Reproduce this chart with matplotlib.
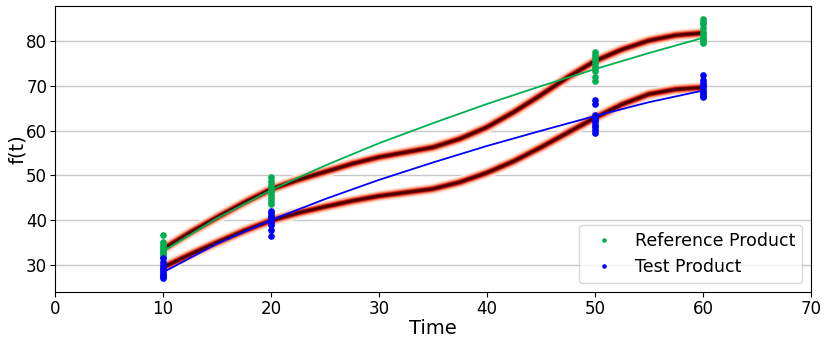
import numpy as np
import matplotlib
matplotlib.use("Agg")
import matplotlib.pyplot as plt

# measured points
times = [10, 20, 50, 60]
ref_pts = [
    [36.7, 35.0, 34.5, 34.0, 33.5, 33.2, 32.8, 32.4, 32.0, 31.7],
    [49.6, 48.8, 48.0, 47.4, 46.8, 46.2, 45.6, 45.0, 44.3, 43.6],
    [77.6, 77.0, 76.4, 75.8, 75.2, 74.6, 74.0, 73.4, 72.0, 71.2],
    [85.0, 84.4, 83.8, 82.9, 82.1, 81.6, 81.1, 80.6, 80.1, 79.7],
]
test_pts = [
    [31.5, 30.6, 30.0, 29.5, 29.0, 28.6, 28.2, 27.8, 27.4, 27.0],
    [42.0, 41.5, 41.0, 40.6, 40.2, 39.8, 39.4, 38.9, 37.8, 36.5],
    [66.8, 65.9, 63.5, 62.9, 62.4, 61.9, 61.4, 60.8, 60.2, 59.6],
    [72.4, 71.3, 70.7, 70.2, 69.7, 69.2, 68.7, 68.2, 67.8, 67.5],
]

# fitted curves
fit_t = [10, 15, 20, 25, 30, 35, 40, 45, 50, 55, 60]
ref_fit = [33.0, 40.4, 46.7, 52.2, 57.2, 61.7, 66.0, 70.0, 73.8, 77.4, 80.8]
test_fit = [28.3, 34.7, 40.0, 44.7, 49.0, 52.9, 56.6, 60.0, 63.3, 66.4, 69.0]

# smooth profile curves (red bands)
band_t = [10, 12.5, 15, 17.5, 20, 22.5, 25, 27.5, 30, 32.5, 35, 37.5, 40,
          42.5, 45, 47.5, 50, 52.5, 55, 57.5, 60]
ref_band = [33.5, 37.2, 40.6, 43.9, 46.9, 49.0, 50.8, 52.6, 54.1, 55.2, 56.3,
            58.2, 60.8, 64.2, 68.0, 72.0, 75.6, 78.2, 80.2, 81.4, 81.9]
test_band = [29.4, 32.3, 35.0, 37.6, 39.9, 41.6, 43.0, 44.3, 45.4, 46.2, 47.0,
             48.5, 50.6, 53.2, 56.3, 59.6, 62.9, 65.9, 68.2, 69.3, 69.7]

# band layers: wide & light outside, thin & dark core
band_widths = [8.6, 7.5, 6.5, 5.5, 4.6, 3.8, 3.0, 2.4, 1.9, 1.3]
band_colors = ["#fff4f0", "#fee3d6", "#fdc9b3", "#fca588", "#f7755a",
               "#e5412e", "#c41a14", "#960707", "#6a0000", "#480000"]

fig, ax = plt.subplots(figsize=(8.3, 3.42), dpi=100)
fig.subplots_adjust(left=0.066, right=0.977, top=0.982, bottom=0.146)

for band in [ref_band, test_band]:
    for w, c in zip(band_widths, band_colors):
        ax.plot(band_t, band, color=c, lw=w, solid_capstyle="butt", zorder=2)

ax.plot(fit_t, ref_fit, color="#00b050", lw=1.3, zorder=3)
ax.plot(fit_t, test_fit, color="blue", lw=1.3, zorder=3)

for t, vals in zip(times, ref_pts):
    ax.plot([t] * len(vals), vals, "o", color="#00b050", ms=3.8, zorder=4,
            label="Reference Product" if t == times[0] else None)
for t, vals in zip(times, test_pts):
    ax.plot([t] * len(vals), vals, "o", color="blue", ms=3.8, zorder=4,
            label="Test Product" if t == times[0] else None)

ax.set_xlim(0, 70)
ax.set_ylim(23.9, 87.9)
ax.set_yticks([30, 40, 50, 60, 70, 80])
ax.yaxis.grid(True, color="#c8c8c8", lw=1)
ax.set_axisbelow(True)
ax.tick_params(labelsize=12, pad=2)
ax.set_xlabel("Time", fontsize=14, labelpad=1)
ax.set_ylabel("f(t)", fontsize=14, labelpad=-1)
ax.legend(loc="lower right", fontsize=12.5, markerscale=0.6)

fig.savefig("out.png", dpi=100)
